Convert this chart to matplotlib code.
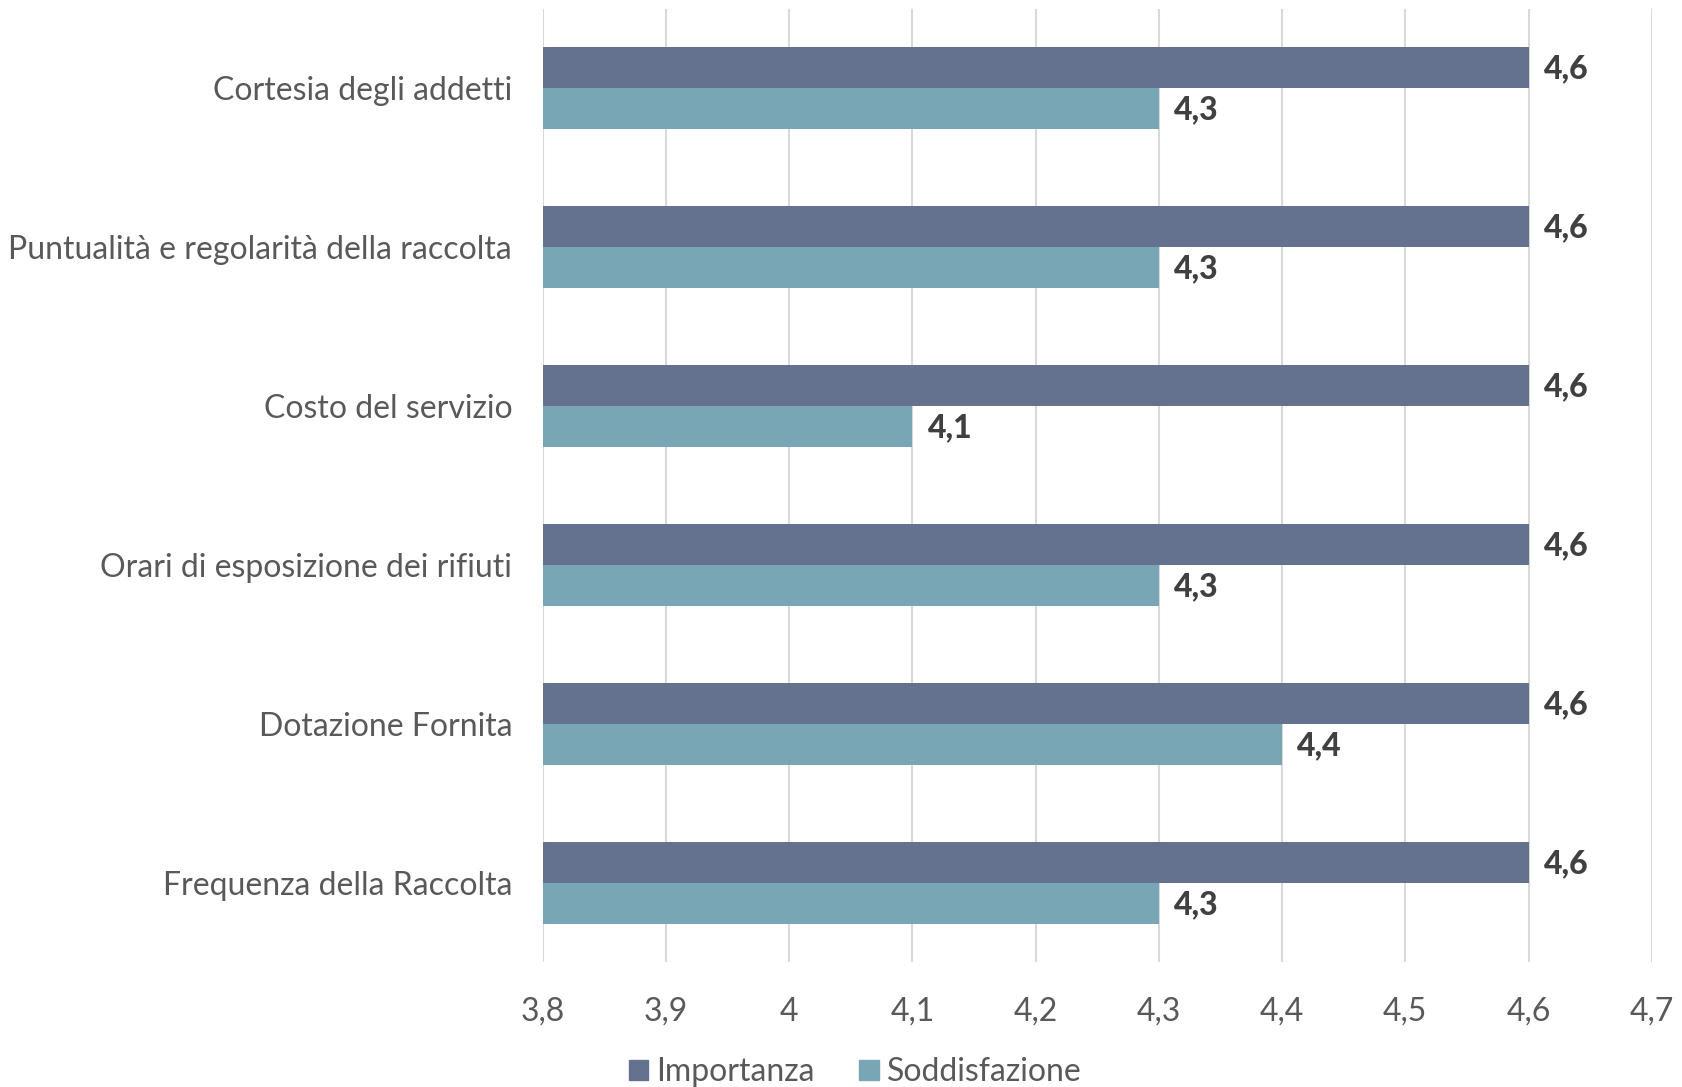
import matplotlib
matplotlib.use("Agg")
import matplotlib.pyplot as plt
import numpy as np
from matplotlib.patches import Patch

categories = [
    "Cortesia degli addetti",
    "Puntualità e regolarità della raccolta",
    "Costo del servizio",
    "Orari di esposizione dei rifiuti",
    "Dotazione Fornita",
    "Frequenza della Raccolta",
]
importanza = [4.6, 4.6, 4.6, 4.6, 4.6, 4.6]
soddisfazione = [4.3, 4.3, 4.1, 4.3, 4.4, 4.3]
series_names = ["Importanza", "Soddisfazione"]
x_ticks = [3.8, 3.9, 4.0, 4.1, 4.2, 4.3, 4.4, 4.5, 4.6, 4.7]

col_imp = "#64718F"
col_sod = "#79A6B4"
text_col = "#595959"
label_col = "#404040"

plt.rcParams["font.family"] = ["Lato", "DejaVu Sans"]

fig = plt.figure(figsize=(16.82, 10.87), dpi=100)
ax = fig.add_axes([0.3227, 0.115, 0.6593, 0.877])

y = np.arange(len(categories))
h = 0.258
base = 3.8

ax.barh(y - h / 2, np.array(importanza) - base, left=base, height=h, color=col_imp)
ax.barh(y + h / 2, np.array(soddisfazione) - base, left=base, height=h, color=col_sod)

def fmt(v):
    return f"{v:.1f}".replace(".", ",")

for yi, v in zip(y, importanza):
    ax.annotate(fmt(v), (v, yi - h / 2), xytext=(11, -1), textcoords="offset points",
                va="center", ha="left", fontsize=23, fontweight="black", color=label_col)
for yi, v in zip(y, soddisfazione):
    ax.annotate(fmt(v), (v, yi + h / 2), xytext=(11, -1), textcoords="offset points",
                va="center", ha="left", fontsize=23, fontweight="black", color=label_col)

ax.set_xlim(3.8, 4.7)
ax.set_ylim(len(categories) - 0.5, -0.5)
ax.set_xticks(x_ticks)
ax.set_xticklabels([("4" if abs(t - 4) < 1e-9 else fmt(t)) for t in x_ticks])
ax.set_yticks(y)
ax.set_yticklabels(categories)
ax.tick_params(axis="both", length=0, labelsize=23, colors=text_col)
ax.tick_params(axis="x", pad=25)
ax.tick_params(axis="y", pad=22)
ax.grid(axis="x", color="#D9D9D9", linewidth=1.5)
ax.set_axisbelow(True)
for s in ax.spines.values():
    s.set_visible(False)

handles = [Patch(color=col_imp), Patch(color=col_sod)]
fig.legend(handles, series_names, loc="center", bbox_to_anchor=(0.5084, 0.0135),
           ncol=2, frameon=False, fontsize=23, labelcolor=text_col,
           handlelength=0.6, handleheight=0.6, handletextpad=0.25, columnspacing=1.4)

fig.savefig("out.png", dpi=100)
